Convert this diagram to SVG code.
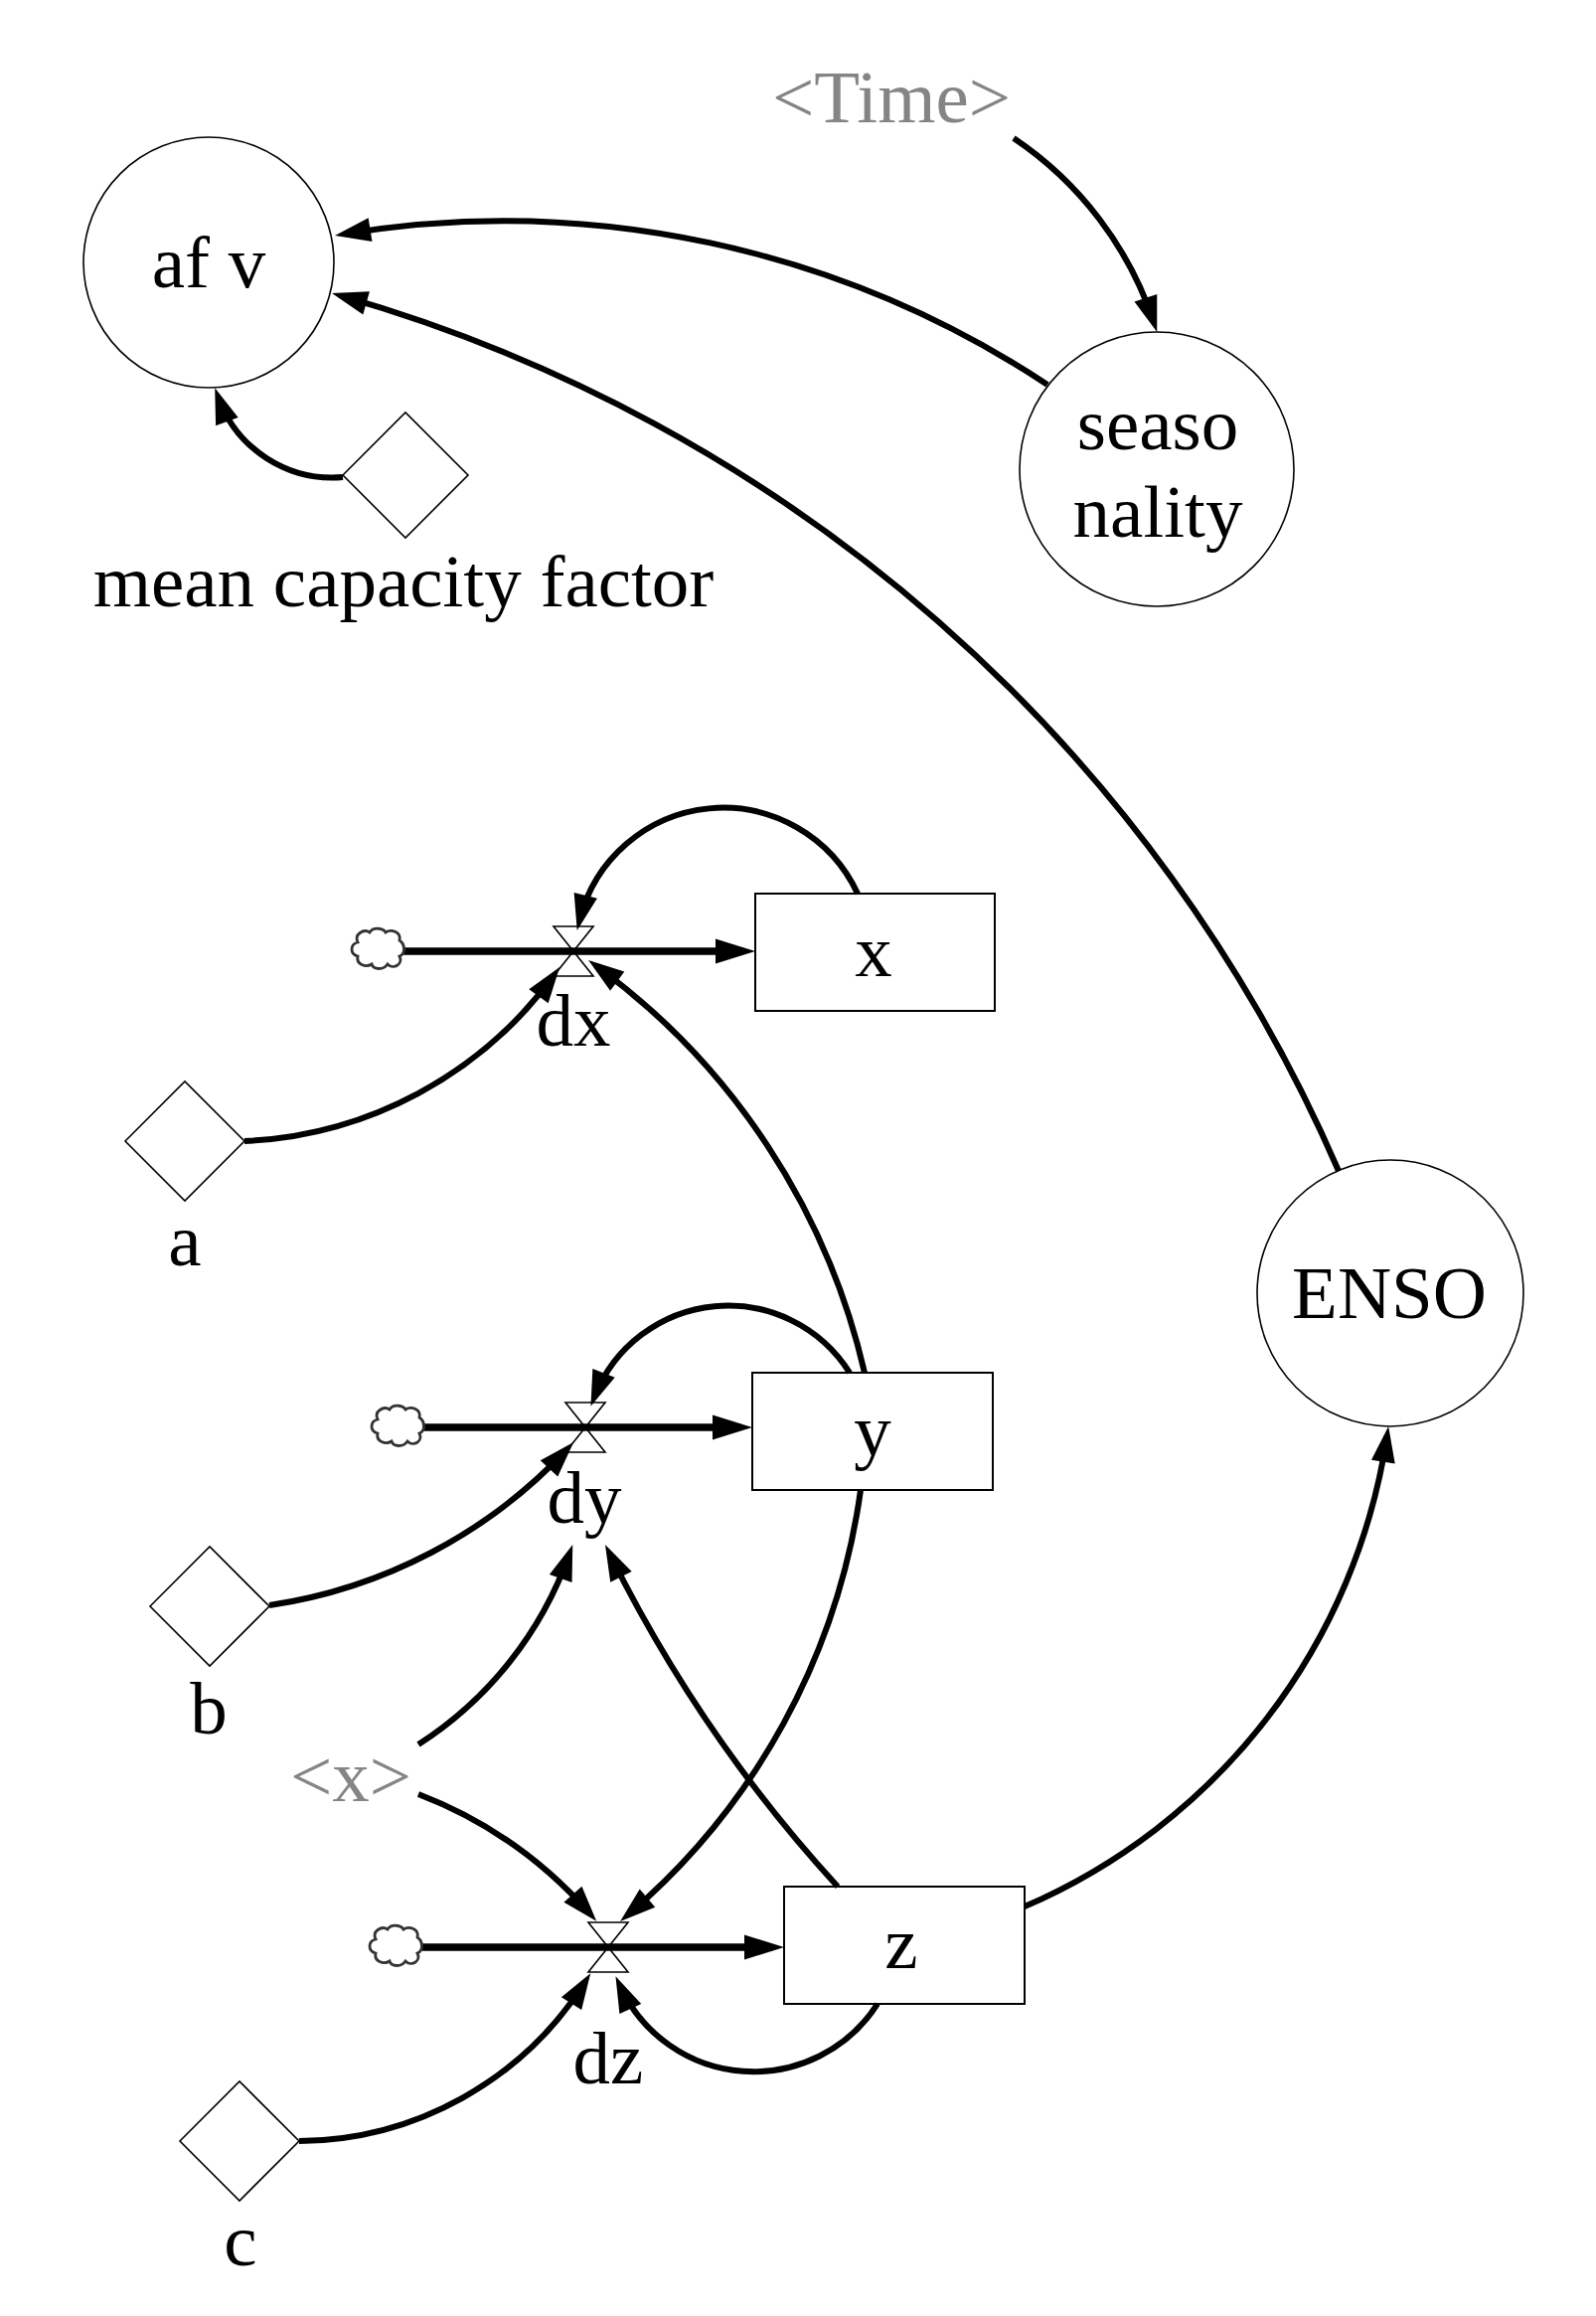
<svg xmlns="http://www.w3.org/2000/svg" width="1606" height="2330" viewBox="0 0 1606 2330">
<style>
text{font-family:"Liberation Serif","Times New Roman",serif;font-size:75px;fill:#000;text-anchor:middle}
text.shadow{fill:#858585}
.aux{fill:#fff;stroke:#000;stroke-width:1.6}
.stock{fill:#fff;stroke:#000;stroke-width:2}
.valve{fill:#fff;stroke:#000;stroke-width:1.6}
.cloud{fill:#fff;stroke:#333;stroke-width:2.8}
.conn{fill:none;stroke:#000;stroke-width:6;marker-end:url(#ah)}
.flow{fill:none;stroke:#000;stroke-width:7.5;marker-end:url(#fh)}
</style>
<defs>
<marker id="ah" markerUnits="userSpaceOnUse" markerWidth="38" markerHeight="26" refX="26" refY="12" orient="auto" overflow="visible"><path d="M0,0 L36,12 L0,24 z" fill="#000"/></marker>
<marker id="fh" markerUnits="userSpaceOnUse" markerWidth="42" markerHeight="26" refX="28" refY="12.5" orient="auto" overflow="visible"><path d="M0,0 L40,12.5 L0,25 z" fill="#000"/></marker>
<path id="cloudshape" d="M-20,-6 C-24,-14 -14,-20 -8,-16 C-4,-22 6,-20 8,-16 C14,-20 24,-16 22,-8 C28,-4 28,6 22,8 C26,16 16,22 10,16 C6,22 -4,22 -6,16 C-12,20 -22,16 -20,8 C-28,6 -28,-4 -20,-6 Z"/>
</defs>
<rect width="1606" height="2330" fill="#fff"/>

<g id="flows">
<g id="flow-dx">
<polygon class="valve" points="557,932 597,932 577,957 557,982 597,982 577,957"/>
<path class="flow" d="M406,957 H748"/>
</g>
<g id="flow-dy">
<polygon class="valve" points="569,1411 609,1411 589,1436 569,1461 609,1461 589,1436"/>
<path class="flow" d="M426,1436 H745"/>
</g>
<g id="flow-dz">
<polygon class="valve" points="592,1934 632,1934 612,1959 592,1984 632,1984 612,1959"/>
<path class="flow" d="M425,1959 H777"/>
</g>
</g>

<g id="nodes">
<g id="afv"><circle class="aux" cx="210" cy="264" r="126"/><text x="210" y="289">af v</text></g>
<g id="time"><text class="shadow" x="897" y="123">&lt;Time&gt;</text></g>
<g id="seasonality"><circle class="aux" cx="1164" cy="472" r="138"/><text x="1165" y="452">seaso</text><text x="1165" y="540">nality</text></g>
<g id="mcf"><polygon class="aux" points="345,478 408,415 471,478 408,541"/><text x="406" y="610">mean capacity factor</text></g>
<g id="enso"><circle class="aux" cx="1399" cy="1301" r="134"/><text x="1398" y="1326">ENSO</text></g>
<g id="x"><rect class="stock" x="760" y="899" width="241" height="118"/><text x="879" y="982">x</text></g>
<g id="y"><rect class="stock" x="757" y="1381" width="242" height="118"/><text x="878" y="1464">y</text></g>
<g id="z"><rect class="stock" x="789" y="1898" width="242" height="118"/><text x="907" y="1980">z</text></g>
<g id="cloud-x"><use href="#cloudshape" class="cloud" x="380" y="954"/></g>
<g id="cloud-y"><use href="#cloudshape" class="cloud" x="400" y="1434"/></g>
<g id="cloud-z"><use href="#cloudshape" class="cloud" x="398" y="1957"/></g>
<g id="dx"><text x="577" y="1052">dx</text></g>
<g id="dy"><text x="588" y="1532">dy</text></g>
<g id="dz"><text x="612" y="2096">dz</text></g>
<g id="a"><polygon class="aux" points="126,1148 186,1088 246,1148 186,1208"/><text x="186" y="1273">a</text></g>
<g id="b"><polygon class="aux" points="151,1616 211,1556 271,1616 211,1676"/><text x="210" y="1744">b</text></g>
<g id="c"><polygon class="aux" points="181,2154 241,2094 301,2154 241,2214"/><text x="242" y="2279">c</text></g>
<g id="xshadow"><text class="shadow" x="353" y="1812">&lt;x&gt;</text></g>
</g>

<g id="connectors">
<path class="conn" d="M1020,139 A360,360 0 0 1 1161.1,324.4"/>
<path class="conn" d="M1054,387 A992,992 0 0 0 346.9,235.3"/>
<path class="conn" d="M1347,1178 A1561,1561 0 0 0 343.6,297.7"/>
<path class="conn" d="M345,480 A122,122 0 0 1 219.6,399.7"/>
<path class="conn" d="M246,1148 A407,407 0 0 0 557.3,981.2"/>
<path class="conn" d="M863,899 A149,149 0 0 0 583.1,926.2"/>
<path class="conn" d="M870,1381 A702,702 0 0 0 600.2,971.8"/>
<path class="conn" d="M855,1381 A144.5,144.5 0 0 0 598.1,1405.5"/>
<path class="conn" d="M271,1615 A514,514 0 0 0 570.3,1458.4"/>
<path class="conn" d="M421,1755 A377,377 0 0 0 572.9,1563.5"/>
<path class="conn" d="M843,1898 A1444,1444 0 0 1 613.4,1563"/>
<path class="conn" d="M866,1499 A685,685 0 0 1 631.7,1926.6"/>
<path class="conn" d="M421,1805 A439,439 0 0 1 593.6,1925.3"/>
<path class="conn" d="M301,2154 A344,344 0 0 0 588.9,1993.6"/>
<path class="conn" d="M883,2016 A148,148 0 0 1 623.6,1997.3"/>
<path class="conn" d="M1031,1918 A614,614 0 0 0 1395.7,1444.9"/>
</g>
</svg>
